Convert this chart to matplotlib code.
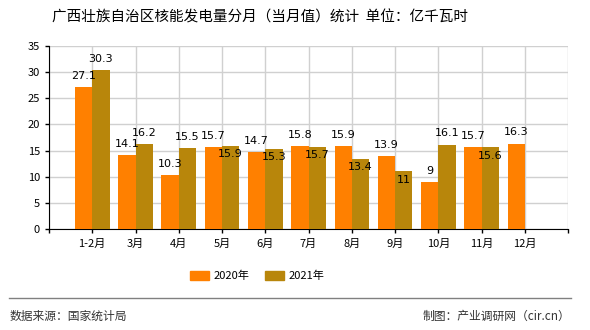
import matplotlib.pyplot as plt
from matplotlib.lines import Line2D
from matplotlib.patches import Patch

plt.rcParams['font.family'] = ['Noto Sans CJK SC', 'DejaVu Sans']

months = ['1-2月', '3月', '4月', '5月', '6月', '7月', '8月', '9月', '10月', '11月', '12月']
values_2020 = [27.1, 14.1, 10.3, 15.7, 14.7, 15.8, 15.9, 13.9, 9, 15.7, 16.3]
values_2021 = [30.3, 16.2, 15.5, 15.9, 15.3, 15.7, 13.4, 11, 16.1, 15.6, None]

c2020 = '#ff8000'
c2021 = '#b8860b'


def fmt(v):
    return ('%g' % v)


fig = plt.figure(figsize=(5.9, 3.3), dpi=100)
ax = fig.add_axes([0.083, 0.306, 0.88, 0.555])

width = 0.4
xs = list(range(1, len(months) + 1))
for x, a, b in zip(xs, values_2020, values_2021):
    ax.bar(x - width / 2, a, width, color=c2020, zorder=3)
    ax.text(x - width / 2, a + 1.2, fmt(a), ha='center', va='bottom',
            fontsize=8, family='DejaVu Sans', zorder=4)
    if b is None:
        continue
    ax.bar(x + width / 2, b, width, color=c2021, zorder=3)
    if abs(a - b) < 1.0 or b < a:
        ax.text(x + width / 2, b - 0.6, fmt(b), ha='center', va='top',
                fontsize=8, family='DejaVu Sans', zorder=4)
    else:
        ax.text(x + width / 2, b + 1.2, fmt(b), ha='center', va='bottom',
                fontsize=8, family='DejaVu Sans', zorder=4)

ax.set_xlim(0, len(months) + 1)
ax.set_ylim(0, 35)
ax.set_yticks(range(0, 36, 5))
ax.set_xticks(range(0, len(months) + 2))
ax.set_xticklabels([''] + months + [''])
ax.grid(True, color='#d0d0d0', linewidth=1, zorder=0)
ax.tick_params(axis='both', labelsize=8, length=3, width=1, color='black')
ax.tick_params(axis='x', pad=4)
for side in ['top', 'right']:
    ax.spines[side].set_visible(False)
ax.spines['left'].set_color('black')
ax.spines['bottom'].set_color('black')

fig.text(0.441, 0.948, '广西壮族自治区核能发电量分月（当月值）统计  单位：亿千瓦时',
         ha='center', va='center', fontsize=10.5)

handles = [Patch(color=c2020, label='2020年'), Patch(color=c2021, label='2021年')]
fig.legend(handles=handles, loc='center', bbox_to_anchor=(0.436, 0.164), ncol=2,
           frameon=False, fontsize=8, handlelength=1.7, handleheight=0.9,
           columnspacing=1.4, handletextpad=0.4)

fig.add_artist(Line2D([0.015, 0.968], [0.097, 0.097], color='#808080', linewidth=1))
fig.text(0.017, 0.042, '数据来源：国家统计局', ha='left', va='center', fontsize=8.5, color='#333333')
fig.text(0.966, 0.042, '制图：产业调研网（cir.cn）', ha='right', va='center', fontsize=8.5, color='#333333')

fig.savefig('out.png', dpi=100)
